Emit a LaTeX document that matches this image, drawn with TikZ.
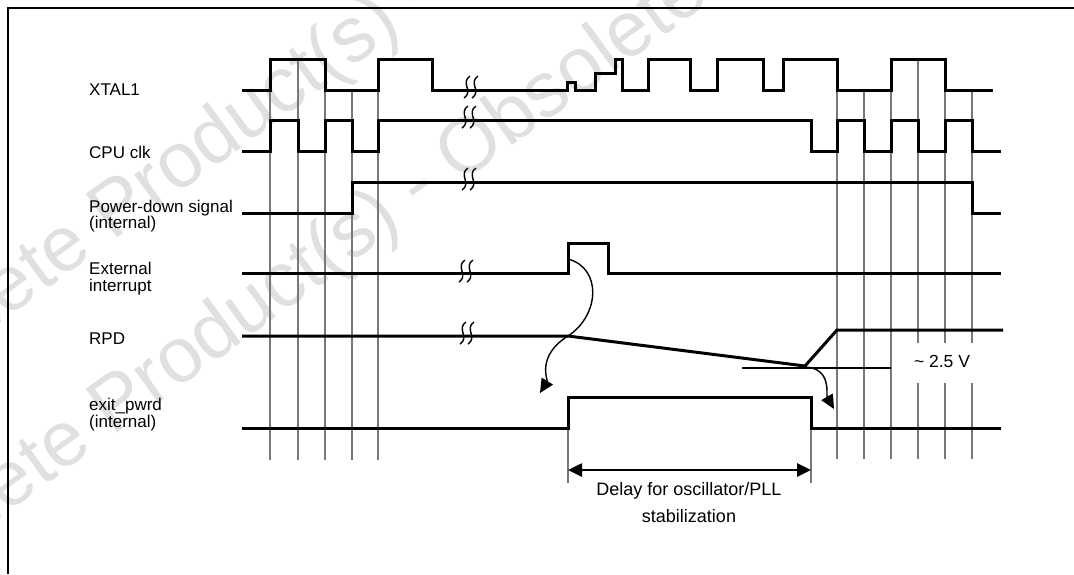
\documentclass[tikz,border=0pt]{standalone}
\usepackage{fontspec}
\setmainfont{Liberation Sans}
\usepackage{tikz}
\usetikzlibrary{arrows.meta}
\definecolor{hatchgray}{RGB}{120,120,120}
\definecolor{wmgray}{RGB}{224,224,224}

\begin{document}
\begin{tikzpicture}[
  x=1pt, y=-1pt,
  sig/.style={line width=3pt, line join=miter},
  gridline/.style={line width=1.9pt, hatchgray},
  thinline/.style={line width=1.5pt},
  brk/.style={line width=1.4pt},
  curved/.style={line width=1.4pt, -{Triangle[length=14pt,width=13pt]}},
  delayarrow/.style={line width=2.6pt, {Triangle[length=14pt,width=13pt]}-{Triangle[length=14pt,width=13pt]}},
  siglabel/.style={anchor=west, align=left, inner sep=0pt, font=\fontsize{17}{17}\selectfont},
  note/.style={inner sep=0pt, align=center, font=\fontsize{18}{27}\selectfont},
  watermark/.style={anchor=base west, rotate=36, inner sep=0pt, text=wmgray, font=\fontsize{78}{78}\selectfont}
]
\useasboundingbox (0,0) rectangle (1074,574);

% Watermark
\begin{scope}
  \clip (0,0) rectangle (1074,574);
  \node[watermark] (wmup) at (-158,438) {Obsolete Product(s) - Obsolete Product(s)};
  \node[watermark] (wmlow) at (-158,633) {Obsolete Product(s) - Obsolete Product(s)};
\end{scope}

% Frame
\draw[line width=2.4pt] (8,574) -- (8,8) -- (1074,8);

% Timing grid, left group
\draw[gridline] (270,90) -- (270,460);
\draw[gridline] (298,60) -- (298,460);
\draw[gridline] (325,90) -- (325,460);
\draw[gridline] (352,90) -- (352,460);
\draw[gridline] (378,90) -- (378,460);

% Timing grid, right group
\draw[gridline] (837,90) -- (837,459);
\draw[gridline] (864,90) -- (864,459);
\draw[gridline] (891,90) -- (891,459);
\draw[gridline] (918,60) -- (918,343) (918,383) -- (918,459);
\draw[gridline] (945,90) -- (945,343) (945,383) -- (945,459);
\draw[gridline] (972,90) -- (972,343) (972,383) -- (972,459);

% Delay markers
\draw[gridline, line width=1.5pt] (568,428) -- (568,483);
\draw[gridline, line width=1.5pt] (811,428) -- (811,483);

% Signal names
\node[siglabel] (xtal) at (89,90) {XTAL1};
\node[siglabel] (cpuclk) at (89,152) {CPU clk};
\node[siglabel, font=\fontsize{17}{16}\selectfont] (pwrdn) at (89,216) {Power-down signal\\(internal)};
\node[siglabel] (extint) at (89,279) {External\\interrupt};
\node[siglabel] (rpd) at (89,339) {RPD};
\node[siglabel] (exitpwrd) at (89,415) {exit\_pwrd\\(internal)};

% XTAL1
\draw[sig] (242,90) -- (270,90) -- (270,59) -- (325,59) -- (325,90) -- (378,90) -- (378,59)
  -- (432,59) -- (432,90) -- (567,90) -- (567,82) -- (575,82) -- (575,90) -- (595,90)
  -- (595,73) -- (615,73) -- (615,59) -- (622,59) -- (622,90) -- (648,90) -- (648,59)
  -- (690,59) -- (690,90) -- (717,90) -- (717,59) -- (763,59) -- (763,90) -- (783,90)
  -- (783,59) -- (837,59) -- (837,90) -- (891,90) -- (891,59) -- (945,59) -- (945,90) -- (993,90);

% CPU clk
\draw[sig] (242,151) -- (270,151) -- (270,120) -- (298,120) -- (298,151) -- (325,151)
  -- (325,120) -- (352,120) -- (352,151) -- (378,151) -- (378,120) -- (811,120) -- (811,151)
  -- (837,151) -- (837,120) -- (864,120) -- (864,151) -- (891,151) -- (891,120) -- (918,120)
  -- (918,151) -- (945,151) -- (945,120) -- (972,120) -- (972,151) -- (1001,151);

% Power-down signal
\draw[sig] (242,213) -- (352,213) -- (352,182) -- (972,182) -- (972,213) -- (1001,213);

% External interrupt
\draw[sig] (242,273) -- (568,273) -- (568,243) -- (608,243) -- (608,273) -- (1001,273);

% RPD
\draw[sig] (242,336) -- (568,336) -- (805,366) -- (837,330) -- (1003,330);
\draw[thinline] (742,368) -- (891,368);
\node[note, font=\fontsize{17.5}{20}\selectfont] (volt) at (942,361) {\textasciitilde{} 2.5 V};

% exit_pwrd
\draw[sig] (242,428) -- (568,428) -- (568,397) -- (811,397) -- (811,428) -- (1001,428);

% Breaks
\draw[brk, shift={(467,87)}] (3,-11) .. controls (-7,-4) and (7,4) .. (-3,11) (11,-11) .. controls (1,-4) and (15,4) .. (5,11);
\draw[brk, shift={(465,117)}] (3,-11) .. controls (-7,-4) and (7,4) .. (-3,11) (11,-11) .. controls (1,-4) and (15,4) .. (5,11);
\draw[brk, shift={(465,179)}] (3,-11) .. controls (-7,-4) and (7,4) .. (-3,11) (11,-11) .. controls (1,-4) and (15,4) .. (5,11);
\draw[brk, shift={(462,271)}] (3,-11) .. controls (-7,-4) and (7,4) .. (-3,11) (11,-11) .. controls (1,-4) and (15,4) .. (5,11);
\draw[brk, shift={(463,333)}] (3,-11) .. controls (-7,-4) and (7,4) .. (-3,11) (11,-11) .. controls (1,-4) and (15,4) .. (5,11);

% Wake-up arrows
\coordinate (pulse) at (568,259);
\coordinate (rpdcross) at (568,336);
\coordinate (tipa) at (540,393);
\coordinate (thresh) at (805,367);
\coordinate (tipb) at (834,409);
\draw[curved] (pulse) .. controls (602,268) and (600,315) .. (rpdcross) .. controls (536,356) and (548,380) .. (tipa);
\draw[curved] (thresh) .. controls (832,368) and (826,395) .. (tipb);

% Delay
\coordinate (dstart) at (568,470);
\coordinate (dend) at (811,470);
\draw[delayarrow] (dstart) -- (dend);
\node[note, anchor=north] (delay) at (689,482) {Delay for oscillator/PLL\\stabilization};

\end{tikzpicture}
\end{document}
